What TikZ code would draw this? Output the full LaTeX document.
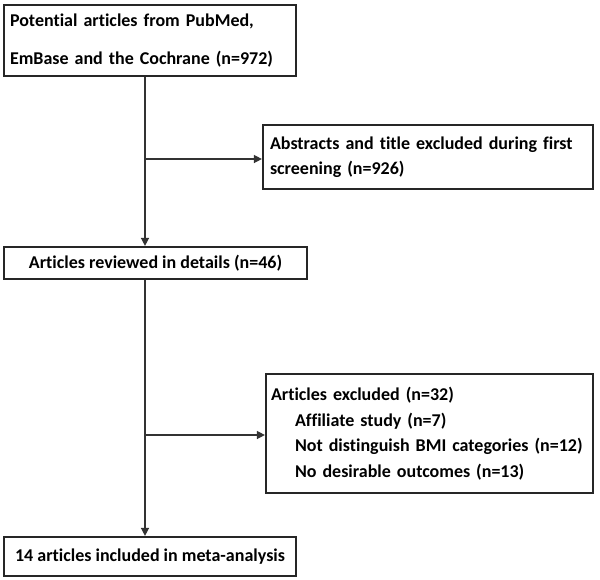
\documentclass[tikz,border=0pt]{standalone}
\usepackage{fontspec}
\setmainfont{Carlito}[Ligatures={NoCommon,NoRare,NoContextual},RawFeature={-liga;-clig;-dlig}]
\usetikzlibrary{arrows.meta,calc}
\begin{document}
\begin{tikzpicture}[x=1pt,y=-1pt,
  box/.style={draw=black!85,line width=2.2pt,inner sep=0pt,font=\bfseries\fontsize{18}{25.5}\selectfont},
  conn/.style={draw=black!80,line width=1.4pt},
  arr/.style={conn,-{Triangle[length=8pt,width=8pt]}}]
\useasboundingbox (0,0) rectangle (600,579);
\node[box,minimum width=292pt,minimum height=71pt,text width=280pt,align=left] (b1) at (150,40.5)
  {Potential articles from PubMed,\\[12pt]EmBase and the Cochrane (n=972)};
\node[box,minimum width=330pt,minimum height=64pt,text width=316pt,align=left] (b2) at (428,157)
  {Abstracts and title excluded during first\\screening (n=926)};
\node[box,minimum width=303pt,minimum height=32pt,align=center] (b3) at (155.5,263)
  {Articles reviewed in details (n=46)};
\node[box,minimum width=327pt,minimum height=119pt,text width=317pt,align=left] (b4) at (429.5,433.5)
  {Articles excluded (n=32)\\\hspace*{24pt}Affiliate study (n=7)\\\hspace*{24pt}Not distinguish BMI categories (n=12)\\\hspace*{24pt}No desirable outcomes (n=13)};
\node[box,minimum width=292pt,minimum height=39pt,align=center] (b5) at (150,556.5)
  {14 articles included in meta-analysis};
\coordinate (j1) at (145,159);
\coordinate (j2) at (145,435);
\draw[arr] (b1.south -| j1) -- (b3.north -| j1);
\draw[arr] (j1) -- (j1 -| b2.west);
\draw[arr] (b3.south -| j2) -- (b5.north -| j2);
\draw[arr] (j2) -- (j2 -| b4.west);
\end{tikzpicture}
\end{document}
